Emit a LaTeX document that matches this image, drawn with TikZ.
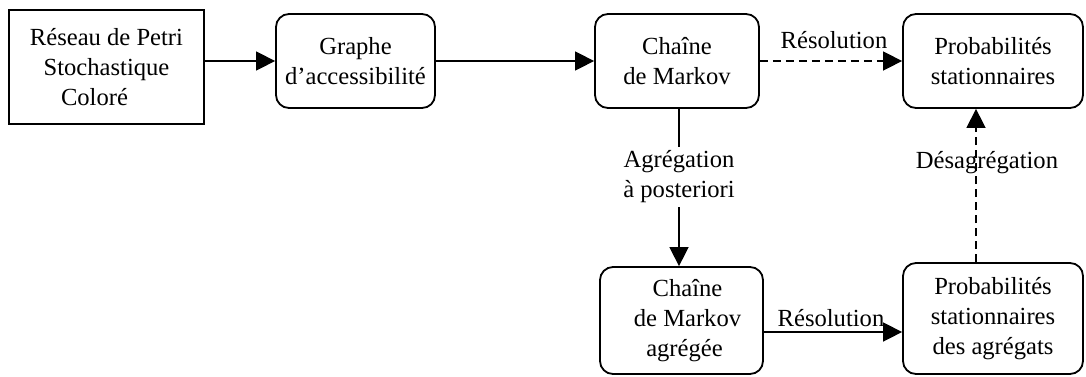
\documentclass[tikz,border=0pt]{standalone}
\usepackage{fontspec}
\setmainfont{Liberation Serif}
\usetikzlibrary{arrows.meta}
\begin{document}
\begin{tikzpicture}[x=1pt,y=-1pt,
  every node/.style={font=\fontsize{24.6}{30}\selectfont, align=center, inner sep=0pt},
  sqbox/.style={draw, line width=1.8pt},
  rbox/.style={draw, line width=1.8pt, rounded corners=13pt},
  arr/.style={line width=1.5pt, -{Triangle[length=19pt,width=19pt]}},
  dasharr/.style={arr, dash pattern=on 8pt off 5pt},
  plain/.style={line width=1.5pt}]
\useasboundingbox (0,0) rectangle (1086,376);

% processing stages
\node[sqbox, minimum width=195pt, minimum height=114pt] (b1) at (106.5,67)
  {Réseau de Petri\\Stochastique\\Coloré\hspace*{24pt}};
\node[rbox, minimum width=159pt, minimum height=94pt] (b2) at (355.5,61)
  {Graphe\\d’accessibilité};
\node[rbox, minimum width=164pt, minimum height=94pt] (b3) at (677,61)
  {Chaîne\\de Markov};
\node[rbox, minimum width=180pt, minimum height=94pt] (b4) at (993,61)
  {Probabilités\\stationnaires};
\node[rbox, minimum width=163pt, minimum height=107pt] (b5) at (681.5,320.5)
  {\hspace*{12pt}Chaîne\\\hspace*{12pt}de Markov\\\hspace*{6pt}agrégée};
\node[rbox, minimum width=180pt, minimum height=111pt] (b6) at (993,318.5)
  {Probabilités\\stationnaires\\des agrégats};

% edge labels
\node (res1) at (834,40) {Résolution};
\node (res2) at (831,318) {Résolution};
\node[minimum height=60pt] (agg) at (679,177) {Agrégation\\à posteriori};
\node (desag) at (987,163) {Désagrégation};

% connectors
\draw[arr] (b1.east |- b2.west) -- (b2.west);
\draw[arr] (b2.east) -- (b3.west);
\draw[dasharr] (b3.east) -- (b4.west);
\draw[plain] (b3.south -| agg.north) -- (agg.north);
\draw[arr] (agg.south) -- (agg.south |- b5.north);
\draw[arr] ([yshift=-11.5pt]b5.east) -- ([yshift=-13.5pt]b6.west);
\draw[dasharr] ([xshift=-17pt]b6.north) -- ([xshift=-17pt]b4.south);
\end{tikzpicture}
\end{document}
